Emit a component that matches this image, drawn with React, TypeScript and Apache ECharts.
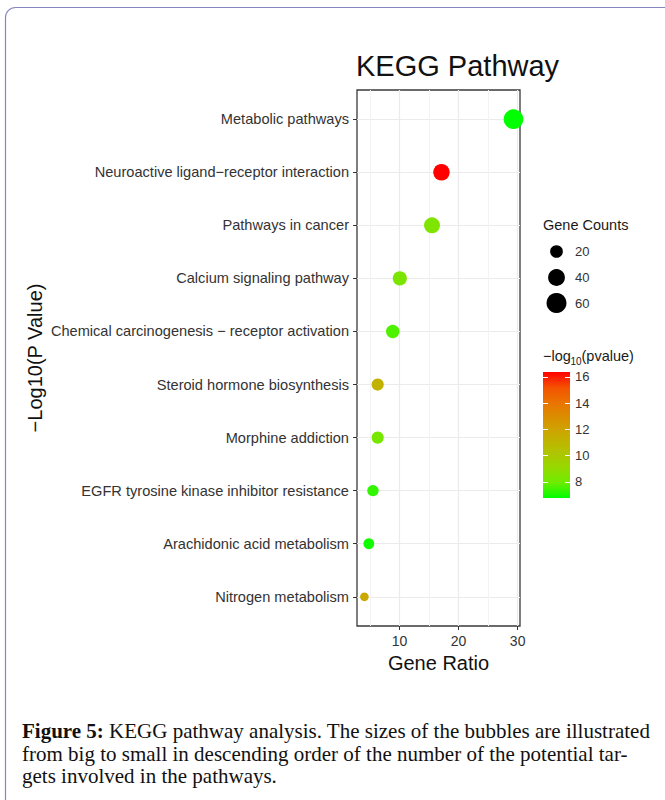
import React, { useEffect, useRef } from "react";
import * as echarts from "echarts";

const pathways = [
  "Metabolic pathways",
  "Neuroactive ligand−receptor interaction",
  "Pathways in cancer",
  "Calcium signaling pathway",
  "Chemical carcinogenesis − receptor activation",
  "Steroid hormone biosynthesis",
  "Morphine addiction",
  "EGFR tyrosine kinase inhibitor resistance",
  "Arachidonic acid metabolism",
  "Nitrogen metabolism",
];
const geneRatio = [29.3, 17.1, 15.5, 10.05, 8.85, 6.3, 6.3, 5.5, 4.8, 4.05];
const negLog10P = [6.76, 16.38, 8.4, 8.3, 7.6, 11.2, 8.2, 7.3, 6.95, 11.7];
const geneCounts = [58, 38, 35, 26, 23, 18, 18, 15, 13, 7];

const xTicks = [10, 20, 30];
const xMinorTicks = [5, 15, 25];
const sizeBreaks = [20, 40, 60];
const colorTicks = [8, 10, 12, 14, 16];
const gradientColors = [
  "#00FF00",
  "#70EB00",
  "#98D700",
  "#B2C200",
  "#C8AB00",
  "#D99200",
  "#E87600",
  "#F45300",
  "#FF0000",
];

const SANS = "'Liberation Sans', Arial, sans-serif";
const SERIF = "'Liberation Serif', 'Times New Roman', serif";

const bubbleDiameter = (count: number) => 2.73 + 2.23 * Math.sqrt(count);

export default function App() {
  const ref = useRef<HTMLDivElement>(null);

  useEffect(() => {
    if (!ref.current) return;
    const chart = echarts.init(ref.current, undefined, { renderer: "svg" });

    const pMin = Math.min(...negLog10P);
    const pMax = Math.max(...negLog10P);
    const idx = pathways.map((_, i) => i);
    const data = pathways.map((name, i) => [geneRatio[i], i, negLog10P[i], geneCounts[i], name]);

    const cb = { left: 543, top: 372, width: 27, height: 126 };
    const legendY = [251.5, 277.5, 303];

    const graphics: any[] = [
      {
        type: "rect",
        z: -5,
        shape: { x: 5.5, y: 7.5, width: 720, height: 860, r: 10 },
        style: { fill: "none", stroke: "#8585c0", lineWidth: 1.2 },
      },
      {
        type: "rect",
        z: 1,
        shape: { x: cb.left, y: cb.top, width: cb.width, height: cb.height },
        style: {
          fill: new echarts.graphic.LinearGradient(
            0,
            1,
            0,
            0,
            gradientColors.map((c, i) => ({ offset: i / (gradientColors.length - 1), color: c }))
          ),
        },
      },
      {
        type: "text",
        x: 543,
        y: 225,
        style: { text: "Gene Counts", fontSize: 14.5, fontFamily: SANS, fill: "#1a1a1a", verticalAlign: "middle" },
      },
      {
        type: "text",
        x: 543,
        y: 356,
        style: { text: "−log", fontSize: 14.5, fontFamily: SANS, fill: "#1a1a1a", verticalAlign: "middle" },
      },
      {
        type: "text",
        x: 570.5,
        y: 361,
        style: { text: "10", fontSize: 10, fontFamily: SANS, fill: "#1a1a1a", verticalAlign: "middle" },
      },
      {
        type: "text",
        x: 581.5,
        y: 356,
        style: { text: "(pvalue)", fontSize: 14.5, fontFamily: SANS, fill: "#1a1a1a", verticalAlign: "middle" },
      },
      {
        type: "text",
        x: 22,
        y: 731,
        style: {
          text: "{b|Figure 5:} KEGG pathway analysis. The sizes of the bubbles are illustrated",
          fontSize: 21,
          fontFamily: SERIF,
          fill: "#111",
          verticalAlign: "middle",
          rich: { b: { fontWeight: "bold", fontSize: 21, fontFamily: SERIF, fill: "#111" } },
        },
      },
      {
        type: "text",
        x: 22,
        y: 753.5,
        style: {
          text: "from big to small in descending order of the number of the potential tar-",
          fontSize: 21,
          fontFamily: SERIF,
          fill: "#111",
          verticalAlign: "middle",
        },
      },
      {
        type: "text",
        x: 22,
        y: 776,
        style: {
          text: "gets involved in the pathways.",
          fontSize: 21,
          fontFamily: SERIF,
          fill: "#111",
          verticalAlign: "middle",
        },
      },
    ];

    sizeBreaks.forEach((v, i) => {
      graphics.push({
        type: "circle",
        shape: { cx: 556.5, cy: legendY[i], r: bubbleDiameter(v) / 2 },
        style: { fill: "#000" },
      });
      graphics.push({
        type: "text",
        x: 575,
        y: legendY[i],
        style: { text: String(v), fontSize: 13, fontFamily: SANS, fill: "#333", verticalAlign: "middle" },
      });
    });

    const option: any = {
      animation: false,
      backgroundColor: "#fff",
      title: {
        text: "KEGG Pathway",
        left: 356,
        top: 51,
        padding: 0,
        textStyle: { fontSize: 29, fontWeight: "normal", color: "#111", fontFamily: SANS },
      },
      grid: [
        {
          left: 357,
          top: 90,
          width: 163,
          height: 536,
          show: true,
          borderColor: "#3a3a3a",
          borderWidth: 1.3,
          backgroundColor: "transparent",
          containLabel: false,
        },
        { left: cb.left, top: cb.top, width: cb.width, height: cb.height, containLabel: false },
      ],
      xAxis: [
        {
          gridIndex: 0,
          type: "value",
          min: 2.8,
          max: 30.4,
          position: "bottom",
          axisLine: { show: false, onZero: false },
          axisTick: { show: true, customValues: xTicks, length: 4, lineStyle: { color: "#333" } },
          axisLabel: { customValues: xTicks, fontSize: 14, color: "#333", margin: 8, fontFamily: SANS },
          splitLine: { show: true, lineStyle: { color: "#EBEBEB", width: 1.2 } },
          name: "Gene Ratio",
          nameLocation: "middle",
          nameGap: 24,
          nameTextStyle: { fontSize: 20, color: "#111", fontFamily: SANS },
        },
        {
          gridIndex: 0,
          type: "value",
          min: 2.8,
          max: 30.4,
          position: "top",
          axisLine: { show: false, onZero: false },
          axisTick: { show: false, customValues: xMinorTicks },
          axisLabel: { show: false, customValues: xMinorTicks },
          splitLine: { show: true, lineStyle: { color: "#F3F3F3", width: 1 } },
        },
        { gridIndex: 1, type: "value", min: 0, max: 1, show: false, axisLine: { onZero: false } },
      ],
      yAxis: [
        {
          gridIndex: 0,
          type: "value",
          inverse: true,
          min: -0.55,
          max: 9.55,
          axisLine: { show: false, onZero: false },
          axisTick: { show: true, customValues: idx, length: 4, lineStyle: { color: "#333" } },
          axisLabel: {
            customValues: idx,
            formatter: (v: number) => pathways[Math.round(v)] ?? "",
            fontSize: 14.6,
            color: "#333",
            margin: 8,
            fontFamily: SANS,
          },
          splitLine: { show: true, lineStyle: { color: "#EBEBEB", width: 1.2 } },
          name: "−Log10(P Value)",
          nameLocation: "middle",
          nameGap: 312,
          nameTextStyle: { fontSize: 20, color: "#111", fontFamily: SANS },
        },
        {
          gridIndex: 1,
          type: "value",
          min: pMin,
          max: pMax,
          position: "right",
          z: 10,
          axisLine: { show: false, onZero: false },
          axisTick: { show: true, inside: true, length: 5, customValues: colorTicks, lineStyle: { color: "#fff", width: 1 } },
          axisLabel: { customValues: colorTicks, fontSize: 13, color: "#333", margin: 5, fontFamily: SANS },
          splitLine: { show: false },
        },
        {
          gridIndex: 1,
          type: "value",
          min: pMin,
          max: pMax,
          position: "left",
          z: 10,
          axisLine: { show: false, onZero: false },
          axisTick: { show: true, inside: true, length: 5, customValues: colorTicks, lineStyle: { color: "#fff", width: 1 } },
          axisLabel: { show: false, customValues: colorTicks },
          splitLine: { show: false },
        },
      ],
      visualMap: {
        type: "continuous",
        show: false,
        dimension: 2,
        min: pMin,
        max: pMax,
        seriesIndex: 0,
        inRange: { color: gradientColors },
      },
      graphic: graphics,
      series: [
        {
          type: "scatter",
          xAxisIndex: 0,
          yAxisIndex: 0,
          data,
          symbolSize: (d: any) => bubbleDiameter(d[3]),
          itemStyle: { opacity: 1 },
          clip: true,
        },
      ],
    };

    chart.setOption(option);
    return () => chart.dispose();
  }, []);

  return (
    <div style={{ position: "absolute", left: 0, top: 0, width: 665, height: 800, background: "#fff" }}>
      <div ref={ref} style={{ width: 665, height: 800 }} />
    </div>
  );
}
